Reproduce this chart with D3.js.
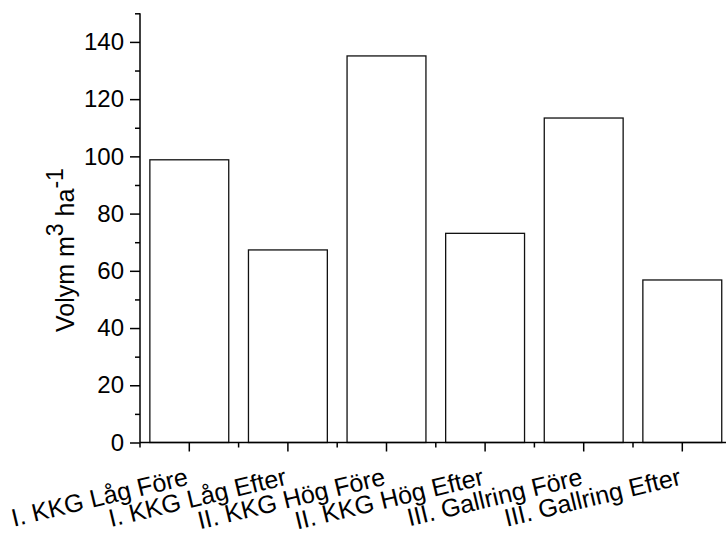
<!DOCTYPE html>
<html>
<head>
<meta charset="utf-8">
<script src="https://cdn.jsdelivr.net/npm/d3@7"></script>
<style>
  body { margin: 0; background: #fff; }
  text { font-family: Arial, "Liberation Sans", sans-serif; fill: #000; }
</style>
</head>
<body>
<svg id="chart" width="726" height="533"></svg>
<script>
const categories = ["I. KKG Låg Före", "I. KKG Låg Efter", "II. KKG Hög Före", "II. KKG Hög Efter", "III. Gallring Före", "III. Gallring Efter"];
const values = [98.8, 67.3, 135.1, 73.1, 113.4, 56.8];
const yMajorTicks = [0, 20, 40, 60, 80, 100, 120, 140];
const yMinorTicks = [10, 30, 50, 70, 90, 110, 130, 150];

const svg = d3.select("#chart");
const x0 = 140, x1 = 731.6, yBottom = 442.5, yTop = 13.3;

const x = d3.scaleBand().domain(categories).range([x0, x1]).paddingInner(0.2).paddingOuter(0.1);
const y = d3.scaleLinear().domain([0, 150]).range([yBottom, yTop]);

// bars
svg.append("g").selectAll("rect").data(values).join("rect")
  .attr("x", (d, i) => x(categories[i]))
  .attr("y", d => y(d))
  .attr("width", x.bandwidth())
  .attr("height", d => y(0) - y(d))
  .attr("fill", "#fff")
  .attr("stroke", "#111")
  .attr("stroke-width", 1.3);

// y axis
const yAxis = svg.append("g").attr("transform", `translate(${x0},0)`)
  .call(d3.axisLeft(y).tickValues(yMajorTicks).tickSize(10).tickPadding(6).tickFormat(d3.format("d")));
yAxis.select(".domain").remove();
yAxis.selectAll("text").attr("font-size", 24).attr("font-family", "Arial, 'Liberation Sans', sans-serif").attr("fill", "#000");
yAxis.selectAll("line").attr("stroke", "#000").attr("stroke-width", 1.5);
const yMinor = svg.append("g").attr("transform", `translate(${x0},0)`)
  .call(d3.axisLeft(y).tickValues(yMinorTicks).tickSize(5).tickFormat(""));
yMinor.select(".domain").remove();
yMinor.selectAll("line").attr("stroke", "#000").attr("stroke-width", 1.5);
svg.append("line").attr("x1", x0).attr("x2", x0).attr("y1", y(0)).attr("y2", y(150))
  .attr("stroke", "#000").attr("stroke-width", 1.5);

// x axis
const xAxis = svg.append("g").attr("transform", `translate(0,${yBottom})`)
  .call(d3.axisBottom(x).tickSize(9).tickFormat(""));
xAxis.select(".domain").remove();
xAxis.selectAll("line").attr("stroke", "#000").attr("stroke-width", 1.5);
const boundaries = categories.map(c => x(c) - x.step() * x.paddingInner() / 2);
boundaries[0] = x0;
svg.append("g").selectAll("line").data(boundaries).join("line")
  .attr("x1", d => d).attr("x2", d => d).attr("y1", yBottom).attr("y2", yBottom + 5)
  .attr("stroke", "#000").attr("stroke-width", 1.5);
svg.append("line").attr("x1", x0).attr("x2", x1).attr("y1", yBottom).attr("y2", yBottom)
  .attr("stroke", "#000").attr("stroke-width", 1.5);

// x labels
svg.append("g").selectAll("text").data(categories).join("text")
  .attr("transform", d => `translate(${x(d) + x.bandwidth() / 2},${yBottom + 42}) rotate(-13.5)`)
  .attr("text-anchor", "end")
  .attr("font-size", 25)
  .text(d => d);

// y title
const title = svg.append("text")
  .attr("transform", `translate(74,332) rotate(-90)`)
  .attr("text-anchor", "start")
  .attr("font-size", 25);
title.append("tspan").text("Volym m");
title.append("tspan").attr("dy", -11).attr("font-size", 23).text("3");
title.append("tspan").attr("dy", 11).text(" ha");
title.append("tspan").attr("dy", -11).attr("font-size", 23).text("-1");
</script>
</body>
</html>
